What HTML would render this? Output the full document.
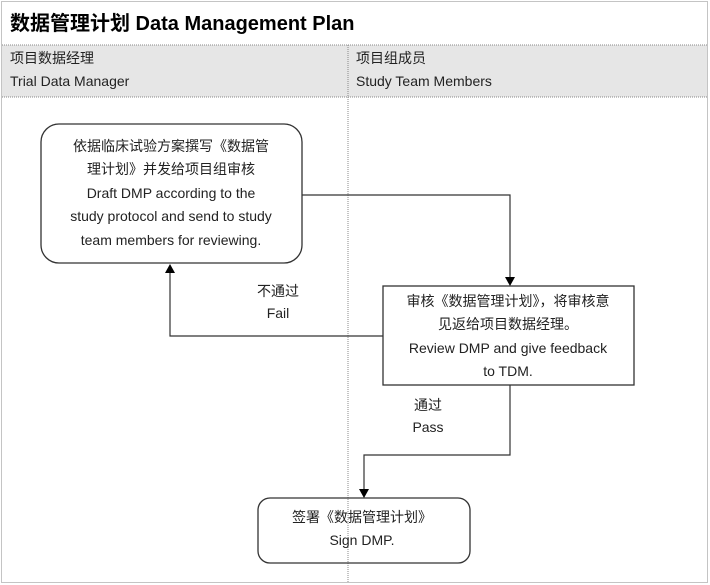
<!DOCTYPE html>
<html><head><meta charset="utf-8"><style>
body{margin:0;background:#fff;}
svg{display:block;font-family:"Liberation Sans","Noto Sans CJK SC",sans-serif;}
</style></head><body>
<svg width="710" height="585" xmlns="http://www.w3.org/2000/svg">
<rect x="0" y="0" width="710" height="585" fill="#fff"/>
<rect x="2" y="45" width="705" height="52" fill="#e6e6e6"/>
<g stroke="#888" stroke-dasharray="1,1" fill="none">
<rect x="1.5" y="1.5" width="706" height="581"/>
<line x1="2" y1="45" x2="708" y2="45"/>
<line x1="2" y1="97" x2="708" y2="97"/>
<line x1="348" y1="45" x2="348" y2="583"/>
</g>
<text x="10" y="30" font-size="20" font-weight="bold">数据管理计划  Data Management Plan</text>
<g font-size="14" fill="#222">
<text x="10" y="63">项目数据经理</text>
<text x="10" y="86">Trial Data Manager</text>
<text x="356" y="63">项目组成员</text>
<text x="356" y="86">Study Team Members</text>
</g>
<g fill="none" stroke="#333" stroke-width="1.3">
<rect x="41" y="124" width="261" height="139" rx="18"/>
<rect x="383" y="286" width="251" height="99"/>
<rect x="258" y="498" width="212" height="65" rx="12"/>
</g>
<g fill="none" stroke="#333" stroke-width="1.2">
<polyline points="302,195 510,195 510,278"/>
<polyline points="383,336 170,336 170,272"/>
<polyline points="510,385 510,455 364,455 364,490"/>
</g>
<g fill="#000">
<polygon points="505,277 515,277 510,286"/>
<polygon points="165,273 175,273 170,264"/>
<polygon points="359,489 369,489 364,498"/>
</g>
<g font-size="14" fill="#222" text-anchor="middle">
<text x="171" y="151">依据临床试验方案撰写《数据管</text>
<text x="171" y="174">理计划》并发给项目组审核</text>
<text x="171" y="198">Draft DMP according to the</text>
<text x="171" y="221">study protocol and send to study</text>
<text x="171" y="245">team members for reviewing.</text>
<text x="278" y="296">不通过</text>
<text x="278" y="318">Fail</text>
<text x="508" y="306">审核《数据管理计划》，将审核意</text>
<text x="508" y="329">见返给项目数据经理。</text>
<text x="508" y="353">Review DMP and give feedback</text>
<text x="508" y="376">to TDM.</text>
<text x="428" y="410">通过</text>
<text x="428" y="432">Pass</text>
<text x="362" y="522">签署《数据管理计划》</text>
<text x="362" y="545">Sign DMP.</text>
</g>
</svg>
</body></html>
